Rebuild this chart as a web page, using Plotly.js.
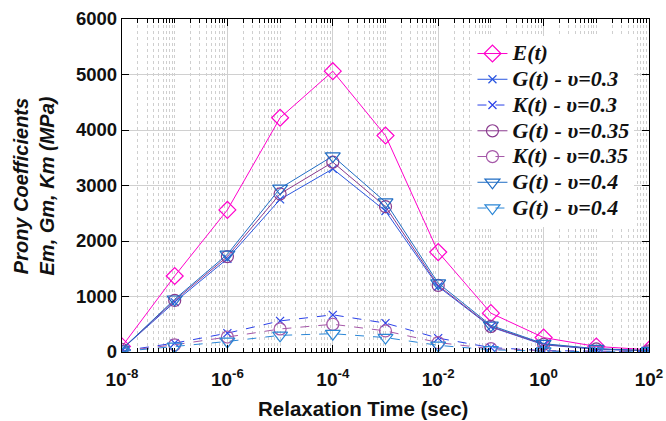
<!DOCTYPE html>
<html><head><meta charset="utf-8">
<script src="https://cdn.plot.ly/plotly-3.0.1.min.js"></script>
<style>body{margin:0;background:#fff}#chart{width:666px;height:421px}</style>
</head><body><div id="chart"></div>
<script>
const times = [1e-8,1e-7,1e-6,1e-5,1e-4,1e-3,1e-2,1e-1,1e0,1e1,1e2];
const E_t    = [100,1370,2560,4220,5060,3900,1800,700,260,100,40];
const G_03   = [50,900,1680,2750,3300,2540,1180,450,130,50,20];
const K_03   = [20,160,340,560,670,520,250,80,25,10,5];
const G_035  = [50,930,1720,2850,3420,2620,1200,460,140,55,20];
const K_035  = [15,130,270,415,500,380,170,60,20,8,4];
const G_04   = [50,950,1760,2950,3530,2700,1240,480,150,60,25];
const K_04   = [10,100,190,300,330,260,120,40,15,5,3];
const names = ['E(t)','G(t) - υ=0.3','K(t) - υ=0.3','G(t) - υ=0.35','K(t) - υ=0.35','G(t) - υ=0.4','G(t) - υ=0.4'];
const xTickVals = [1e-8,1e-6,1e-4,1e-2,1e0,1e2];
const xTickText = ['10<sup>-8</sup>','10<sup>-6</sup>','10<sup>-4</sup>','10<sup>-2</sup>','10<sup>0</sup>','10<sup>2</sup>'];
const xTitle = 'Relaxation Time (sec)';
const yTitle = 'Prony Coefficients<br>Em, Gm, Km (MPa)';

const series = [
  {y:E_t,  color:'#ff00cc', dash:'solid', sym:'diamond-open', size:13},
  {y:G_03, color:'#2a56e0', dash:'solid', sym:'x-thin-open', size:8},
  {y:K_03, color:'#2a40e8', dash:'dash', sym:'x-thin-open', size:8},
  {y:G_035,color:'#8a3a8e', dash:'solid', sym:'circle-open', size:12},
  {y:K_035,color:'#a558a8', dash:'dash', sym:'circle-open', size:12},
  {y:G_04, color:'#1f6cc4', dash:'solid', sym:'triangle-down-open', size:13},
  {y:K_04, color:'#2a86d6', dash:'dash', sym:'triangle-down-open', size:13}
];
const traces = series.map((s,i)=>({
  x:times, y:s.y, name:'<span style="font-size:22px">'+names[i]+'</span>', type:'scatter', mode:'lines+markers',
  line:{color:s.color, width:1, dash:s.dash},
  marker:{symbol:s.sym, size:s.size, color:s.color, line:{width:1.2, color:s.color}}
}));

const layout = {
  width:666, height:421,
  margin:{l:122, r:17, t:19, b:69},
  paper_bgcolor:'#fff', plot_bgcolor:'#fff',
  showlegend:true,
  legend:{x:0.665, y:0.95, xanchor:'left', yanchor:'top', bgcolor:'#fff', borderwidth:0,
    font:{family:'Liberation Serif', size:17.5, color:'#111', weight:'bold', style:'italic'},
    tracegroupgap:0},
  xaxis:{type:'log', range:[-8,2], tickvals:xTickVals, ticktext:xTickText,
    ticks:'inside', ticklen:7, tickcolor:'#000', showline:true, linecolor:'#000', linewidth:1.2, mirror:'allticks',
    showgrid:true, gridcolor:'#d0d0d0', gridwidth:1, ticklabelstandoff:10,
    minor:{dtick:'D1', ticks:'inside', ticklen:4, tickcolor:'#000', showgrid:true, gridcolor:'#cfcfcf', griddash:'dot', gridwidth:1},
    tickfont:{family:'Liberation Sans', size:19, color:'#111', weight:'bold'},
    zeroline:false},
  yaxis:{range:[0,6000], dtick:1000, tick0:0,
    ticks:'inside', ticklen:7, tickcolor:'#000', showline:true, linecolor:'#000', linewidth:1.2, mirror:'allticks',
    showgrid:true, gridcolor:'#d0d0d0', gridwidth:1,
    tickfont:{family:'Liberation Sans', size:18.5, color:'#111', weight:'bold'},
    zeroline:false},
  annotations:[
    {text:xTitle, xref:'paper', yref:'paper', x:0.457, y:-0.17, xanchor:'center', yanchor:'middle', showarrow:false,
     font:{family:'Liberation Sans', size:20.5, color:'#111', weight:'bold'}},
    {text:yTitle, xref:'paper', yref:'paper', x:-0.167, y:0.5, xanchor:'center', yanchor:'middle', showarrow:false, textangle:-90,
     font:{family:'Liberation Sans', size:20, color:'#111', weight:'bold', style:'italic'}}
  ]
};
Plotly.newPlot('chart', traces, layout, {displayModeBar:false, staticPlot:true});
</script></body></html>
